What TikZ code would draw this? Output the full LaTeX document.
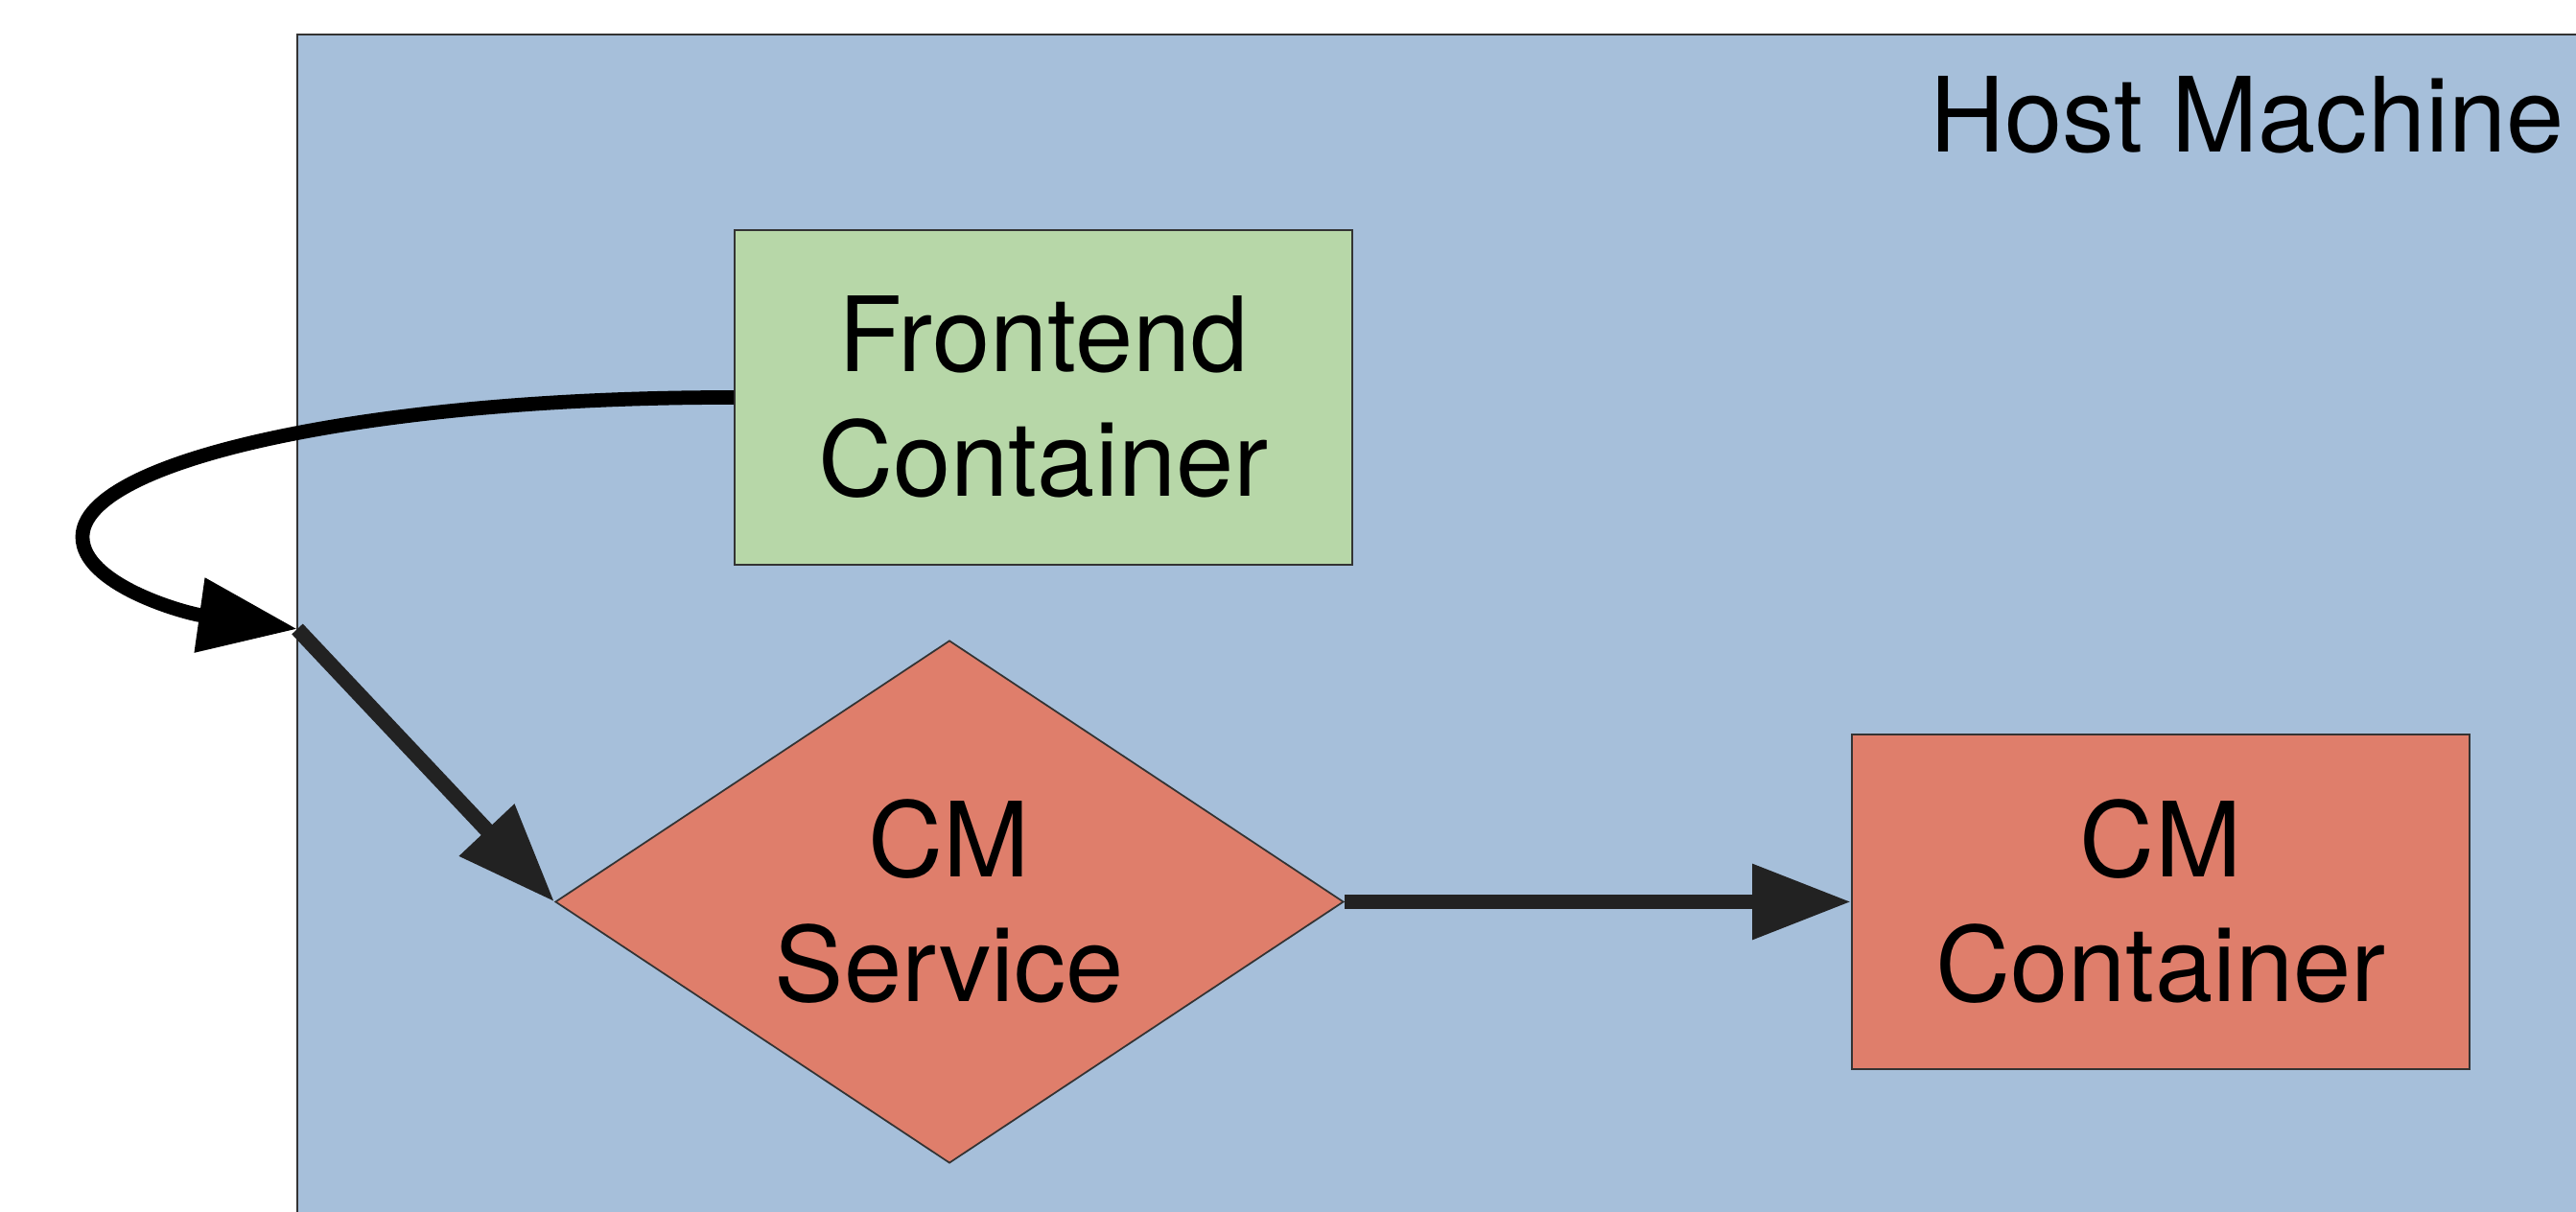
\documentclass[tikz,border=0pt]{standalone}
\usepackage{fontspec}
\setmainfont{TeX Gyre Heros}
\usetikzlibrary{shapes.geometric}
\usetikzlibrary{arrows.meta}
\usetikzlibrary{positioning}

\definecolor{hostblue}{HTML}{A6BFDA}
\definecolor{frontgreen}{HTML}{B7D7A8}
\definecolor{cmred}{HTML}{DF7E6B}
\definecolor{edgegray}{HTML}{333333}
\definecolor{arrowgray}{HTML}{222222}

\tikzset{
    boxnode/.style={draw=edgegray, line width=0.5pt, minimum width=6.44cm, minimum height=3.49cm,
        align=center, font=\fontsize{30.8}{37}\selectfont},
    flow/.style={line width=4.5pt, -{Triangle[length=1.03cm, width=0.75cm]}}
}

\begin{document}
\begin{tikzpicture}
        \useasboundingbox (0,0) rectangle (26.86,12.64);

        % host machine
        \begin{scope}
            \clip (0,0) rectangle (26.86,12.64);
            \draw[fill=hostblue, draw=edgegray, line width=0.6pt] (3.10,12.28) rectangle (27.5,-1);
        \end{scope}
        \node[anchor=base east, font=\fontsize{30.8}{37}\selectfont] (hostlabel) at (26.86,11.05) {Host Machine};

        % containers and service
        \node[boxnode, fill=frontgreen] (frontend) at (10.88,8.495) {Frontend\\Container};

        \node[draw=edgegray, line width=0.5pt, fill=cmred, diamond, aspect=1.5, inner sep=0pt,
            minimum width=8.22cm, minimum height=5.45cm, align=center,
            font=\fontsize{30.8}{37}\selectfont] (cmservice) at (9.90,3.235) {CM\\Service};

        \node[boxnode, fill=cmred] (cmcontainer) at (22.53,3.235) {CM\\Container};

        % arrows
        \coordinate (junction) at (3.10,6.08);

        \draw[flow, black, line width=4.2pt] (frontend.west)
            .. controls (3.90,8.50) and (0.86,7.85) .. (0.86,7.04)
            .. controls (0.86,6.55) and (1.9,6.25) .. (junction);

        \draw[flow, arrowgray] (junction) -- (cmservice.west);

        \draw[flow, arrowgray] (cmservice.east) -- (cmcontainer.west);

\end{tikzpicture}
\end{document}
